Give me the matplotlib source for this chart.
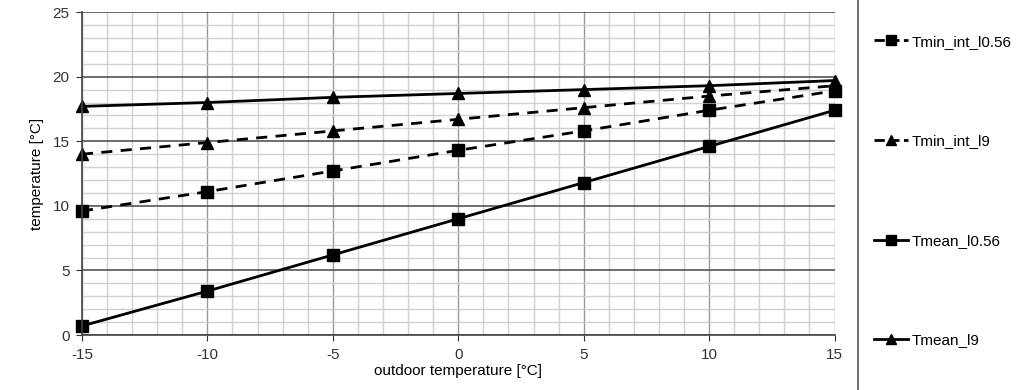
import numpy as np
import matplotlib.pyplot as plt
from matplotlib.lines import Line2D
from matplotlib.ticker import MultipleLocator

plt.rcParams['font.family'] = ['Liberation Sans', 'DejaVu Sans']
plt.rcParams['axes.unicode_minus'] = False

# data
t_out = [-15, -10, -5, 0, 5, 10, 15]
tmin_int_l056 = [9.6, 11.1, 12.7, 14.3, 15.8, 17.4, 18.9]
tmin_int_l9 = [14.0, 14.9, 15.8, 16.7, 17.6, 18.5, 19.3]
tmean_l056 = [0.7, 3.4, 6.2, 9.0, 11.8, 14.6, 17.4]
tmean_l9 = [17.7, 18.0, 18.4, 18.7, 19.0, 19.3, 19.7]
labels = ['Tmin_int_l0.56', 'Tmin_int_l9', 'Tmean_l0.56', 'Tmean_l9']

fig = plt.figure(figsize=(10.24, 3.9), dpi=100)
ax = fig.add_axes([0.080, 0.141, 0.735, 0.828])

# grid
ax.xaxis.set_major_locator(MultipleLocator(5))
ax.yaxis.set_major_locator(MultipleLocator(5))
ax.xaxis.set_minor_locator(MultipleLocator(1))
ax.yaxis.set_minor_locator(MultipleLocator(1))
ax.grid(which='minor', color='#d0d0d0', lw=1.0)
ax.grid(which='major', axis='y', color='#555555', lw=1.2)
ax.grid(which='major', axis='x', color='#999999', lw=1.0)
ax.set_axisbelow(True)

series = [tmin_int_l056, tmin_int_l9, tmean_l056, tmean_l9]
styles = [('s', (0, (4, 3))), ('^', (0, (4, 3))), ('s', '-'), ('^', '-')]
handles = []
for vals, (m, ls), lab in zip(series, styles, labels):
    h, = ax.plot(t_out, vals, color='black', lw=2, ls=ls, marker=m,
                 markersize=8, clip_on=False, label=lab)
    handles.append(h)

ax.set_xlim(-15, 15)
ax.set_ylim(0, 25)
for s in ['top', 'right']:
    ax.spines[s].set_visible(False)
for s in ['left', 'bottom']:
    ax.spines[s].set_color('#444444')
    ax.spines[s].set_linewidth(1.2)
ax.tick_params(which='minor', length=0)
ax.tick_params(which='major', length=4, direction='out', color='#444444')
ax.tick_params(labelsize=11, colors='#333333', pad=5)
ax.set_xlabel('outdoor temperature [°C]', fontsize=11, labelpad=2)
ax.set_ylabel('temperature [°C]', fontsize=11, labelpad=6)

# separator line before legend
fig.add_artist(Line2D([0.838, 0.838], [0.0, 1.0], color='#555555', lw=1.2))

leg_handles = [Line2D([], [], color='black', lw=2, ls=h.get_linestyle(),
                      marker=h.get_marker(), markersize=7) for h in handles]
fig.legend(leg_handles, labels, loc='center left', bbox_to_anchor=(0.840, 0.51),
           frameon=False, fontsize=11, labelspacing=5.6, handlelength=2.2,
           handletextpad=0.3)

fig.savefig('out.png', dpi=100)
